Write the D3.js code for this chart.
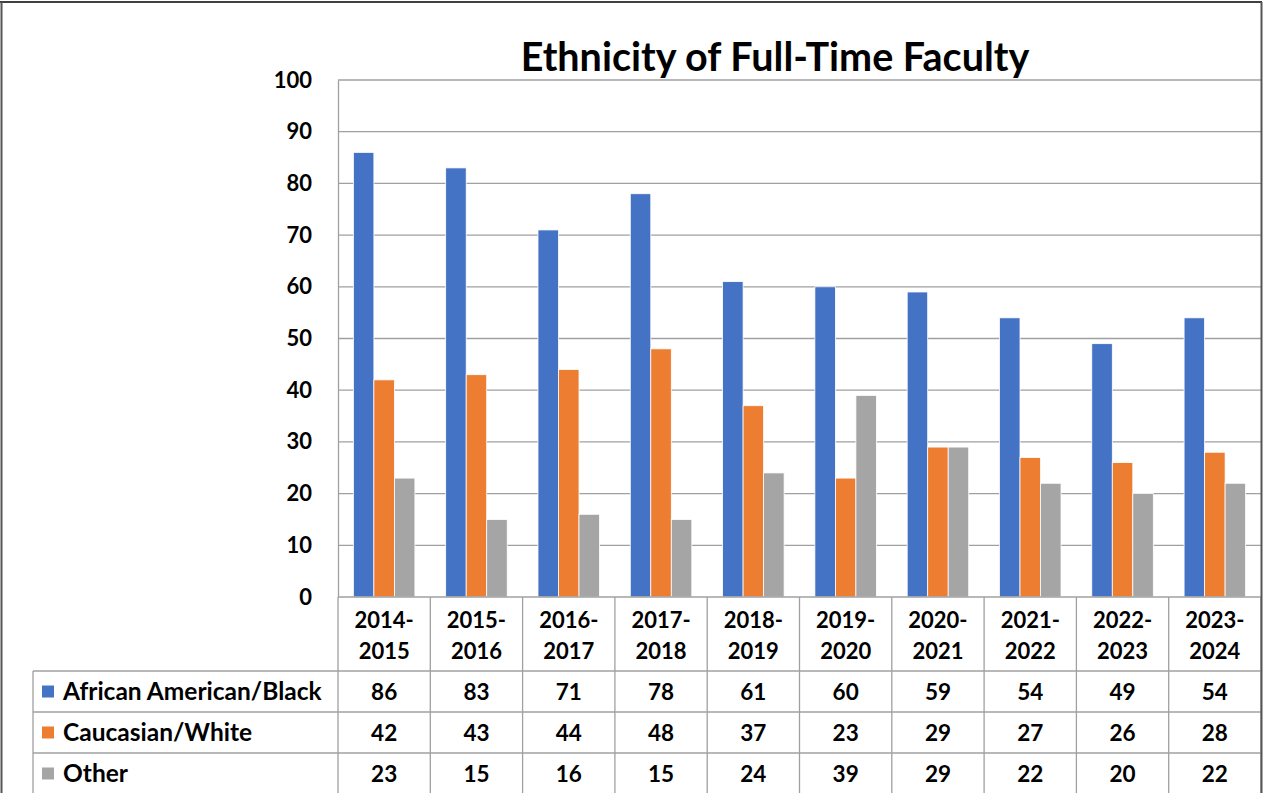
<!DOCTYPE html>
<html>
<head>
<meta charset="utf-8">
<script src="https://cdn.jsdelivr.net/npm/d3@7"></script>
<style>
  body { margin: 0; background: #fff; }
  svg { display: block; font-family: Lato, "Open Sans", sans-serif; font-weight: bold; }
</style>
</head>
<body>
<svg width="1263" height="793"></svg>
<script>
var years = ["2014-2015", "2015-2016", "2016-2017", "2017-2018", "2018-2019",
             "2019-2020", "2020-2021", "2021-2022", "2022-2023", "2023-2024"];
var seriesNames = ["African American/Black", "Caucasian/White", "Other"];
var black = [86, 83, 71, 78, 61, 60, 59, 54, 49, 54];
var white = [42, 43, 44, 48, 37, 23, 29, 27, 26, 28];
var other = [23, 15, 16, 15, 24, 39, 29, 22, 20, 22];
var colors = ["#4472C4", "#ED7D31", "#A5A5A5"];
var yTicks = [0, 10, 20, 30, 40, 50, 60, 70, 80, 90, 100];

var values = [black, white, other];

var svg = d3.select("svg"),
    width = +svg.attr("width"),
    height = +svg.attr("height");

var plotLeft = 338, plotRight = 1261, plotTop = 80, plotBottom = 597;
var rowH = 41, headBottom = 671, tableLeft = 33;
var lineColor = "#a0a0a0";

var x = d3.scaleBand().domain(years).range([plotLeft, plotRight]).paddingInner(0).paddingOuter(0);
var xs = d3.scaleBand().domain(d3.range(3)).range([0, x.bandwidth()]).paddingInner(0).paddingOuter(0.75);
var y = d3.scaleLinear().domain([0, 100]).range([plotBottom, plotTop]);

// gridlines
svg.append("g")
    .selectAll("line")
    .data(yTicks.filter(function(d) { return d > 0; }))
    .enter().append("line")
    .attr("x1", plotLeft).attr("x2", plotRight)
    .attr("y1", function(d) { return y(d); })
    .attr("y2", function(d) { return y(d); })
    .style("stroke", lineColor)
    .style("stroke-width", 1.3);

// y axis labels
var yAxis = svg.append("g")
    .attr("transform", "translate(" + plotLeft + ",0)")
    .call(d3.axisLeft(y).tickValues(yTicks).tickSize(0).tickPadding(26));
yAxis.select(".domain").style("stroke", lineColor).style("stroke-width", 1.3);
yAxis.selectAll("text")
    .style("font-family", "Lato, 'Open Sans', sans-serif")
    .style("font-weight", "bold")
    .style("font-size", "22px")
    .style("fill", "#000");

// bars
var groups = svg.append("g").selectAll("g")
    .data(years)
    .enter().append("g")
    .attr("transform", function(d) { return "translate(" + x(d) + ",0)"; });

groups.selectAll("rect")
    .data(function(d, i) { return values.map(function(v, s) { return { s: s, v: v[i] }; }); })
    .enter().append("rect")
    .attr("x", function(d) { return xs(d.s); })
    .attr("width", xs.bandwidth())
    .attr("y", function(d) { return y(d.v); })
    .attr("height", function(d) { return y(0) - y(d.v); })
    .style("fill", function(d) { return colors[d.s]; })
    .style("stroke", "#fff")
    .style("stroke-width", 0.8);

// data table lines
var t = svg.append("g").style("stroke", lineColor).style("stroke-width", 1.3);
t.append("line").attr("x1", plotLeft).attr("x2", plotRight).attr("y1", plotBottom).attr("y2", plotBottom);
t.selectAll(".vline")
    .data(years.concat(["end"]))
    .enter().append("line")
    .attr("x1", function(d, i) { return plotLeft + i * x.step(); })
    .attr("x2", function(d, i) { return plotLeft + i * x.step(); })
    .attr("y1", plotBottom).attr("y2", height);
d3.range(3).forEach(function(r) {
    t.append("line")
        .attr("x1", tableLeft).attr("x2", plotRight)
        .attr("y1", headBottom + r * rowH).attr("y2", headBottom + r * rowH);
});
t.append("line").attr("x1", tableLeft).attr("x2", tableLeft).attr("y1", headBottom).attr("y2", height);

// category labels (two lines)
var cat = svg.append("g").selectAll("text")
    .data(years)
    .enter().append("text")
    .attr("text-anchor", "middle")
    .style("font-size", "22px");
cat.append("tspan")
    .attr("x", function(d) { return x(d) + x.bandwidth() / 2; })
    .attr("y", 628)
    .text(function(d) { return d.split("-")[0] + "-"; });
cat.append("tspan")
    .attr("x", function(d) { return x(d) + x.bandwidth() / 2; })
    .attr("y", 659)
    .text(function(d) { return d.split("-")[1]; });

// table rows
seriesNames.forEach(function(name, s) {
    var cy = headBottom + s * rowH + rowH / 2;
    svg.append("rect")
        .attr("x", 42).attr("y", cy - 6)
        .attr("width", 12).attr("height", 12)
        .style("fill", colors[s]);
    svg.append("text")
        .attr("x", 63).attr("y", cy + 8)
        .style("font-size", "24.5px")
        .text(name);
    svg.append("g").selectAll("text")
        .data(values[s])
        .enter().append("text")
        .attr("x", function(d, i) { return x(years[i]) + x.bandwidth() / 2; })
        .attr("y", cy + 8)
        .attr("text-anchor", "middle")
        .style("font-size", "22.5px")
        .text(function(d) { return d; });
});

// title
svg.append("text")
    .attr("x", 775).attr("y", 71)
    .attr("text-anchor", "middle")
    .style("font-size", "39.5px")
    .text("Ethnicity of Full-Time Faculty");

// outer frame
svg.append("line").attr("x1", 0).attr("x2", 1262).attr("y1", 2).attr("y2", 2)
    .style("stroke", "#000").style("stroke-width", 1.5);
svg.append("line").attr("x1", 1.5).attr("x2", 1.5).attr("y1", 2).attr("y2", height)
    .style("stroke", "#555").style("stroke-width", 2);
svg.append("line").attr("x1", 1261.5).attr("x2", 1261.5).attr("y1", 2).attr("y2", height)
    .style("stroke", "#555").style("stroke-width", 2);
</script>
</body>
</html>
